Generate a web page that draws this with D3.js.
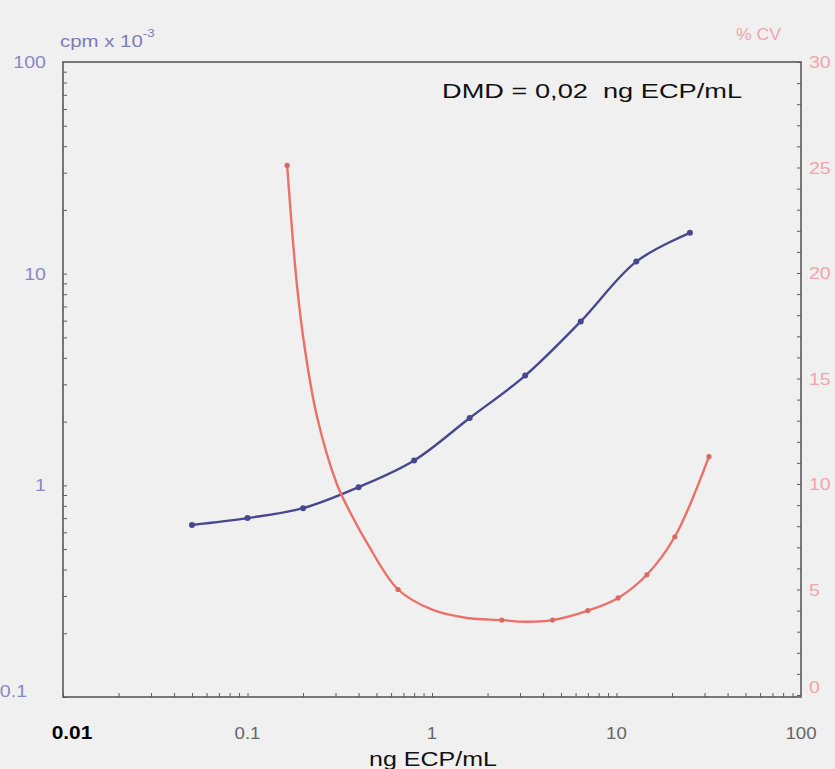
<!DOCTYPE html>
<html>
<head>
<meta charset="utf-8">
<script src="https://cdn.jsdelivr.net/npm/d3@7"></script>
<style>
  html, body { margin: 0; padding: 0; background: #f0f0f0; }
  svg { display: block; }
  text { font-family: "Liberation Sans", Arial, sans-serif; }
</style>
</head>
<body>
<script>
// ---- data ----
const concMarkers = [0.05, 0.1, 0.2, 0.4, 0.8, 1.6, 3.2, 6.4, 12.8, 25];
const cpmValues   = [0.65, 0.70, 0.78, 0.98, 1.31, 2.08, 3.3, 5.95, 11.4, 15.6];

const cvMarkerConc = [0.164, 0.655, 2.39, 4.5, 7.0, 10.2, 14.6, 20.7, 31.7];
const cvMarkerVals = [25.1, 5.0, 3.55, 3.55, 4.0, 4.6, 5.7, 7.5, 11.3];

// points
const cvCurveConc = [0.164, 0.185, 0.205, 0.238, 0.305, 0.373, 0.445, 0.655, 1.01, 1.55, 2.39, 3.2, 4.5, 7.0, 10.2, 14.6, 20.7, 31.7];
const cvCurveVals = [25.1, 19.5, 16.35, 13.2, 10.0, 8.4, 7.2, 5.0, 4.03, 3.65, 3.55, 3.47, 3.55, 4.0, 4.6, 5.7, 7.5, 11.3];

const xTickVals = [0.01, 0.1, 1, 10, 100];
const xTickLabels = ["0.01", "0.1", "1", "10", "100"];
const yTickVals = [0.1, 1, 10, 100];
const yTickLabels = ["0.1", "1", "10", "100"];
const cvTickVals = [0, 5, 10, 15, 20, 25, 30];

const W = 835, H = 769;
const m = {left: 63, right: 34, top: 62, bottom: 72};

const svg = d3.select("body").append("svg").attr("width", W).attr("height", H);
svg.append("rect").attr("width", W).attr("height", H).attr("fill", "#f0f0f0");

const x = d3.scaleLog().domain([0.01, 100]).range([m.left, W - m.right]);
const y = d3.scaleLog().domain([0.1, 100]).range([H - m.bottom, m.top]);
const yCV = d3.scaleLinear().domain([0, 30]).range([H - m.bottom - 2, m.top]);

const frameColor = "#5a5a5a";
const blue = "#47478f";
const red = "#ea7068";
const blueText = "#8888c6";
const pinkText = "#f2a4ac";

function stretch(sel, f) {
  sel.each(function () {
    const w = this.getComputedTextLength();
    d3.select(this).attr("textLength", w * f).attr("lengthAdjust", "spacingAndGlyphs");
  });
}

// minor ticks
const minorX = [];
for (let e = -2; e < 2; e++) for (let k = 1; k < 10; k++) minorX.push(k * Math.pow(10, e));
const minorY = [];
for (let e = -1; e < 2; e++) for (let k = 1; k < 10; k++) minorY.push(k * Math.pow(10, e));

svg.append("g").attr("transform", `translate(0,${H - m.bottom})`)
  .call(d3.axisBottom(x).tickValues(minorX).tickSize(-4).tickFormat(""))
  .call(g => g.select(".domain").remove())
  .call(g => g.selectAll("line").attr("stroke", frameColor));

svg.append("g").attr("transform", `translate(${m.left},0)`)
  .call(d3.axisLeft(y).tickValues(minorY).tickSize(-4).tickFormat(""))
  .call(g => g.select(".domain").remove())
  .call(g => g.selectAll("line").attr("stroke", frameColor));

svg.append("g").attr("transform", `translate(${W - m.right},0)`)
  .call(d3.axisRight(yCV).tickValues(d3.range(0, 31, 1)).tickSize(-4).tickFormat(""))
  .call(g => g.select(".domain").remove())
  .call(g => g.selectAll("line").attr("stroke", frameColor));

// frame
svg.append("rect")
  .attr("x", m.left).attr("y", m.top)
  .attr("width", W - m.left - m.right).attr("height", H - m.top - m.bottom)
  .attr("fill", "none").attr("stroke", frameColor).attr("stroke-width", 1.6);

// x tick labels
svg.append("g").selectAll("text").data(xTickVals).join("text")
  .attr("x", (d, i) => i === 0 ? 72 : x(d)).attr("y", H - m.bottom + 42)
  .attr("text-anchor", "middle")
  .attr("font-size", (d, i) => i === 0 ? 19 : 17)
  .attr("font-weight", (d, i) => i === 0 ? "bold" : "normal")
  .attr("fill", (d, i) => i === 0 ? "#000" : "#666")
  .text((d, i) => xTickLabels[i])
  .call(stretch, 1.1);

svg.append("text").attr("x", (x(0.01) + x(100)) / 2 + 1).attr("y", H - 3)
  .attr("text-anchor", "middle").attr("font-size", 20).attr("fill", "#111")
  .text("ng ECP/mL")
  .call(stretch, 1.25);

// left tick labels
svg.append("g").selectAll("text").data(yTickVals).join("text")
  .attr("x", d => d === 0.1 ? 27 : 46).attr("y", d => y(d) + (d === 0.1 ? 0 : 6))
  .attr("text-anchor", "end").attr("font-size", 17).attr("fill", blueText)
  .text((d, i) => yTickLabels[i])
  .call(stretch, 1.15);

// left axis title
const lt = svg.append("text").attr("x", 60).attr("y", 47).attr("font-size", 17).attr("fill", "#7c7cb6");
lt.append("tspan").text("cpm x 10");
lt.append("tspan").attr("dy", -10).attr("font-size", 11).text("-3");
lt.call(stretch, 1.2);

// right tick labels
svg.append("g").selectAll("text").data(cvTickVals).join("text")
  .attr("x", W - m.right + 8).attr("y", d => yCV(d) + (d === 0 ? -2 : 6))
  .attr("text-anchor", "start").attr("font-size", 17).attr("fill", pinkText)
  .text(d => d)
  .call(stretch, 1.15);

svg.append("text").attr("x", 781).attr("y", 40).attr("text-anchor", "end")
  .attr("font-size", 16).attr("fill", pinkText).text("% CV")
  .call(stretch, 1.1);

// annotation
svg.append("text").attr("x", 442).attr("y", 98).attr("font-size", 20).attr("fill", "#111")
  .attr("xml:space", "preserve")
  .text("DMD = 0,02  ng ECP/mL")
  .call(stretch, 1.36);

// blue curve
const blueData = concMarkers.map((c, i) => ({c, v: cpmValues[i]}));
svg.append("path").datum(blueData)
  .attr("fill", "none").attr("stroke", blue).attr("stroke-width", 2.4)
  .attr("d", d3.line().x(d => x(d.c)).y(d => y(d.v)).curve(d3.curveCatmullRom.alpha(0.5)));
svg.append("g").selectAll("circle").data(blueData).join("circle")
  .attr("cx", d => x(d.c)).attr("cy", d => y(d.v)).attr("r", 3).attr("fill", blue);

// red curve
const redCurve = cvCurveConc.map((c, i) => ({c, v: cvCurveVals[i]}));
svg.append("path").datum(redCurve)
  .attr("fill", "none").attr("stroke", red).attr("stroke-width", 2.4)
  .attr("d", d3.line().x(d => x(d.c)).y(d => yCV(d.v)).curve(d3.curveCatmullRom.alpha(0.5)));
const redMarks = cvMarkerConc.map((c, i) => ({c, v: cvMarkerVals[i]}));
svg.append("g").selectAll("circle").data(redMarks).join("circle")
  .attr("cx", d => x(d.c)).attr("cy", d => yCV(d.v)).attr("r", 2.6).attr("fill", "#d86a66");
</script>
</body>
</html>
